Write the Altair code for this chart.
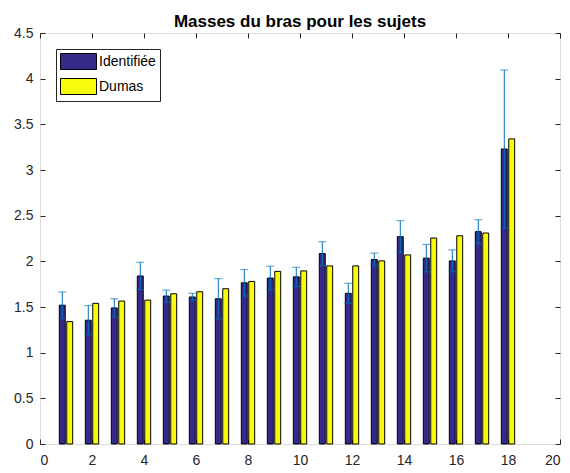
import altair as alt
import pandas as pd

# ---- data ----
subjects = list(range(1, 19))
identifiee = [1.52, 1.355, 1.49, 1.84, 1.62, 1.61, 1.59, 1.765, 1.817, 1.83,
              2.085, 1.65, 2.02, 2.27, 2.035, 2.005, 2.325, 3.23]
dumas = [1.34, 1.54, 1.565, 1.575, 1.645, 1.667, 1.70, 1.78, 1.89, 1.895,
         1.95, 1.95, 2.005, 2.07, 2.255, 2.28, 2.31, 3.34]
erreur = [0.145, 0.16, 0.10, 0.15, 0.065, 0.04, 0.22, 0.145, 0.13, 0.105,
          0.13, 0.11, 0.07, 0.175, 0.15, 0.12, 0.13, 0.865]
series_names = ["Identifiée", "Dumas"]
series_colors = ["#352A87", "#F9FB0E"]
x_ticks = list(range(0, 21, 2))
y_ticks = [0, 0.5, 1, 1.5, 2, 2.5, 3, 3.5, 4, 4.5]
title_text = "Masses du bras pour les sujets"

# ---- grouped-bar geometry (MATLAB style) ----
GROUP_OFF = 0.143
HALF_W = 0.114

rows = []
for s, a, b in zip(subjects, identifiee, dumas):
    rows.append({"sujet": s, "serie": series_names[0], "valeur": a,
                 "x0": s - GROUP_OFF - HALF_W, "x1": s - GROUP_OFF + HALF_W})
    rows.append({"sujet": s, "serie": series_names[1], "valeur": b,
                 "x0": s + GROUP_OFF - HALF_W, "x1": s + GROUP_OFF + HALF_W})
bars_df = pd.DataFrame(rows)

err_df = pd.DataFrame({
    "xc": [s - GROUP_OFF for s in subjects],
    "lo": [v - e for v, e in zip(identifiee, erreur)],
    "hi": [v + e for v, e in zip(identifiee, erreur)],
})
caps_df = pd.concat([
    pd.DataFrame({"xc": err_df["xc"], "y": err_df["lo"]}),
    pd.DataFrame({"xc": err_df["xc"], "y": err_df["hi"]}),
])

FONT = "Liberation Sans"
AX = "#262626"
xs = alt.Scale(domain=[0, 20], nice=False, zero=False)
ys = alt.Scale(domain=[0, 4.5], nice=False, zero=False)

def axis(orient, values, labels=True, pad=7):
    return alt.Axis(orient=orient, values=values, offset=-5, tickSize=5,
                    tickColor=AX, tickWidth=1, domain=False, grid=False,
                    title=None, labels=labels, labelPadding=pad,
                    labelFont=FONT, labelFontSize=14, labelColor=AX,
                    format="~g")

# legend swatch: 36x16 rectangle, symbol size 256 -> scale 8 px per unit
SWATCH = "M-1,-1L3.5,-1L3.5,1L-1,1Z"

bars = alt.Chart(bars_df).mark_rect(stroke="black", strokeWidth=1).encode(
    x=alt.X("x0:Q", scale=xs, axis=axis("bottom", x_ticks, pad=9)),
    x2="x1:Q",
    y=alt.Y("valeur:Q", scale=ys, axis=axis("left", y_ticks, pad=7)),
    y2=alt.datum(0),
    color=alt.Color("serie:N", scale=alt.Scale(domain=series_names, range=series_colors),
                    legend=alt.Legend(
                        orient="none", legendX=16, legendY=16, title=None,
                        fillColor="white", strokeColor=AX, padding=4,
                        symbolType=SWATCH,
                        symbolSize=256, symbolStrokeColor="black",
                        symbolStrokeWidth=1, symbolOpacity=1,
                        labelFont=FONT, labelFontSize=14, labelColor="black",
                        labelOffset=22, rowPadding=4, cornerRadius=0)),
)

rules = alt.Chart(err_df).mark_rule(color="#0072BD", strokeWidth=1).encode(
    x=alt.X("xc:Q", scale=xs, axis=axis("top", x_ticks, labels=False)),
    y=alt.Y("lo:Q", scale=ys, axis=axis("right", y_ticks, labels=False)),
    y2="hi:Q",
)

caps = alt.Chart(caps_df).mark_tick(color="#0072BD", orient="horizontal",
                                    size=8, thickness=1).encode(
    x=alt.X("xc:Q", scale=xs, axis=None),
    y=alt.Y("y:Q", scale=ys, axis=None),
)

chart = alt.layer(bars, rules, caps).resolve_axis(
    x="independent", y="independent"
).properties(
    width=520, height=411,
    title=alt.Title(title_text, font=FONT, fontSize=17, fontWeight="bold",
                    color="black", anchor="middle", offset=6, dy=11),
    autosize=alt.AutoSizeParams(type="none"),
    padding={"left": 32, "top": 25, "right": 2, "bottom": 27},
).configure_view(stroke=AX, strokeWidth=1).configure(background="white")

chart.save("out.html", embed_options={"renderer": "svg", "actions": False})
